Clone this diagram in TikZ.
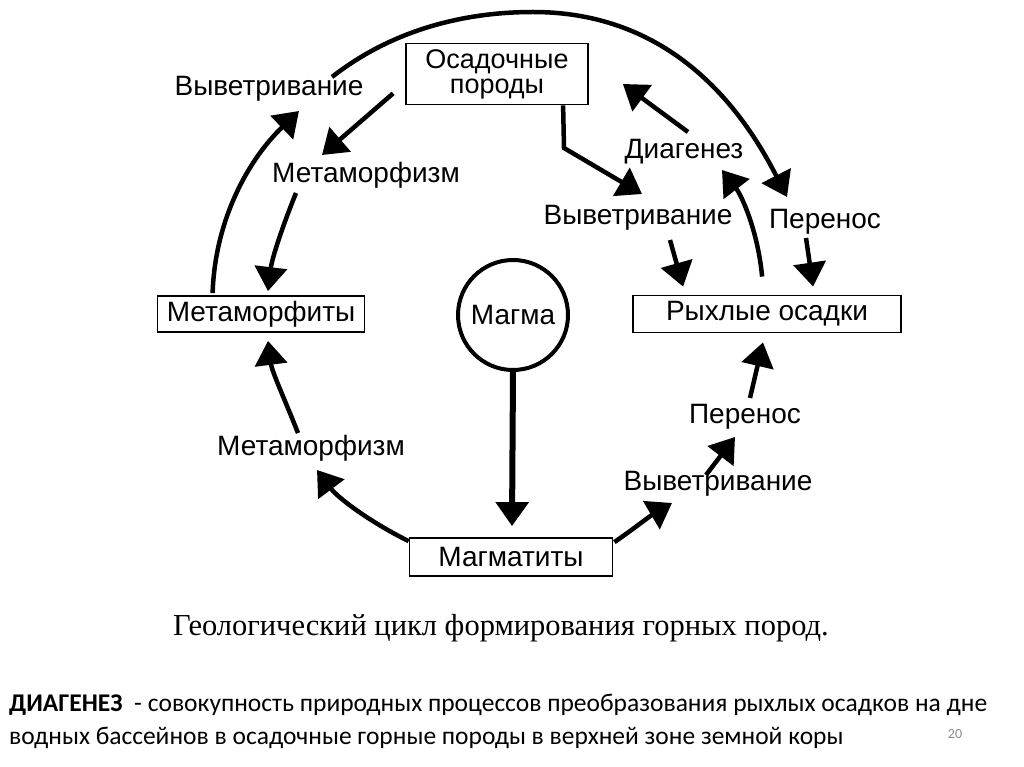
\documentclass[tikz,border=0pt]{standalone}
\usepackage{fontspec}
\setmainfont{Liberation Sans}
\newfontfamily\capfont{Liberation Serif}
\newfontfamily\notefont{Carlito}
\usetikzlibrary{arrows.meta,positioning,calc}

\begin{document}
\begin{tikzpicture}[x=1pt,y=-1pt,
  every node/.style={font=\fontsize{28}{30}\selectfont, inner sep=1pt},
  rock/.style={rectangle, draw, line width=1.8pt, align=center},
  flow/.style={line width=4.5pt, -{Triangle[length=24pt,width=32pt]}}
]
  \useasboundingbox (0,0) rectangle (1024,767);

  % rocks
  \node[rock, minimum width=182pt, minimum height=61pt, font=\fontsize{27}{25}\selectfont] (sed) at (497,74) {Осадочные\\породы};
  \node[rock, minimum width=207pt, minimum height=36pt] (meta) at (261,314) {Метаморфиты};
  \node[rock, minimum width=268pt, minimum height=37pt] (loose) at (767,314) {Рыхлые осадки};
  \node[rock, minimum width=203pt, minimum height=38pt] (magm) at (511,557) {Магматиты};
  \node[circle, draw, line width=4pt, minimum size=110pt] (magma) at (513,315) {Магма};

  % processes
  \node (wTop) at (269,89) {Выветривание};
  \node (metTop) at (366,175) {Метаморфизм};
  \node (diag) at (684,152) {Диагенез};
  \node (wMid) at (638,218) {Выветривание};
  \node (perTop) at (825,222) {Перенос};
  \node (metLow) at (311,448) {Метаморфизм};
  \node (perLow) at (745,417) {Перенос};
  \node (wLow) at (718,484) {Выветривание};

  % free ends
  \coordinate (arcA) at ($(wTop)+(63,-12)$);
  \coordinate (arcTop) at (533,12);
  \coordinate (arcB) at ($(perTop)+(-38,-25)$);
  \coordinate (bend) at (564,148);

  % left side
  \draw[flow] ($(meta.north west)+(56,-2)$) .. controls (215,220) and (248,160) .. ($(wTop)+(30,22)$);
  \draw[flow] (arcA) .. controls (388,33) and (458,12) .. (arcTop) .. controls (650,12) and (728,81) .. (arcB);
  \draw[flow] ($(sed.south west)+(-12,-12)$) -- ($(metTop)+(-44,-20)$);
  \draw[flow] ($(metTop)+(-70,18)$) .. controls (283,225) and (272,258) .. ($(meta.north)+(7,-4)$);
  \draw[flow] ($(magm.north west)+(0,4)$) .. controls (370,522) and (338,498) .. ($(metLow)+(6,22)$);
  \draw[flow] ($(metLow)+(-13,-15)$) .. controls (285,400) and (272,372) .. ($(meta.south)+(7,8)$);

  % right side
  \draw[flow] ($(sed.south west)+(158,0)$) -- (bend) -- ($(wMid)+(4,-24)$);
  \draw[flow] ($(diag)+(4,-20)$) -- ($(sed.east)+(34,10)$);
  \draw[flow] ($(loose.north west)+(130,-18)$) .. controls (758,232) and (742,196) .. ($(diag)+(38,18)$);
  \draw[flow] ($(wMid)+(32,22)$) -- ($(loose.north west)+(51,-8)$);
  \draw[flow] ($(perTop)+(-19,16)$) -- ($(loose.north west)+(181,-8)$);
  \draw[flow] ($(magm.north east)+(1,5)$) .. controls (632,530) and (650,516) .. ($(wLow)+(-46,19)$);
  \draw[flow] ($(wLow)+(-12,-9)$) -- ($(perLow)+(-10,20)$);
  \draw[flow] ($(perLow)+(5,-19)$) -- ($(loose.south)+(-4,9)$);

  % magma
  \draw[flow, line width=6pt] (magma.south) -- ($(magm.north)+(1,-11)$);

  % captions
  \node[font=\capfont\fontsize{30.5}{32}\selectfont] (cap) at (501,628) {Геологический цикл формирования горных пород.};
  \node[anchor=west, font=\notefont\fontsize{25.5}{33}\selectfont, align=left] (note) at (8,721)
    {\textbf{ДИАГЕНЕЗ}\ \ - совокупность природных процессов преобразования рыхлых осадков на дне\\водных бассейнов в осадочные горные породы в верхней зоне земной коры};
  \node[font=\notefont\fontsize{14}{16}\selectfont, text=black!45] (page) at (955,734) {20};
\end{tikzpicture}
\end{document}
